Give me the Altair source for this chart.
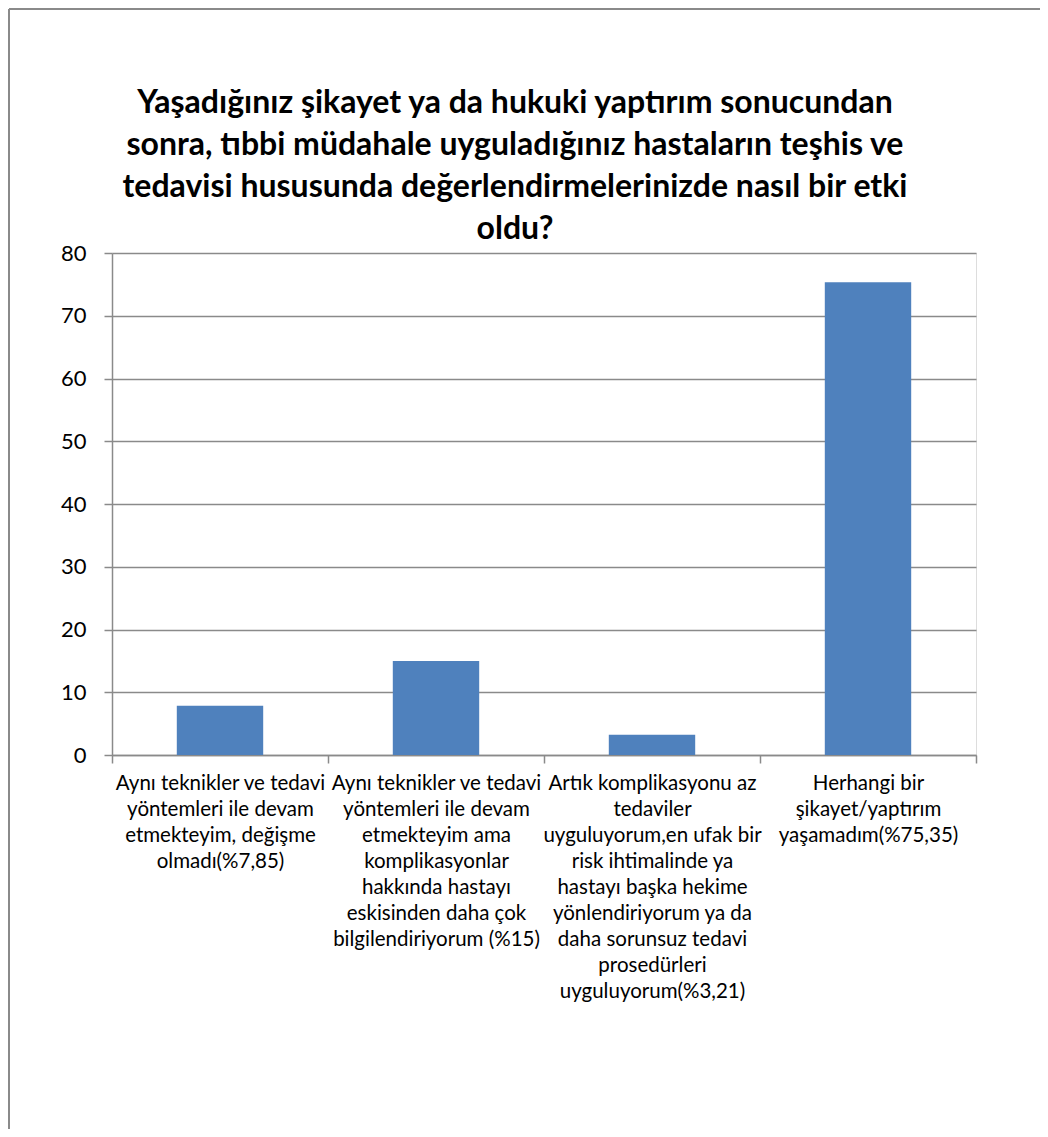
import altair as alt
import pandas as pd

# ---- data ----
categories = [
    "Aynı teknikler ve tedavi\nyöntemleri ile devam\netmekteyim, değişme\nolmadı(%7,85)",
    "Aynı teknikler ve tedavi\nyöntemleri ile devam\netmekteyim ama\nkomplikasyonlar\nhakkında hastayı\neskisinden daha çok\nbilgilendiriyorum (%15)",
    "Artık komplikasyonu az\ntedaviler\nuyguluyorum,en ufak bir\nrisk ihtimalinde ya\nhastayı başka hekime\nyönlendiriyorum ya da\ndaha sorunsuz tedavi\nprosedürleri\nuyguluyorum(%3,21)",
    "Herhangi bir\nşikayet/yaptırım\nyaşamadım(%75,35)",
]
values = [7.85, 15, 3.21, 75.35]
y_ticks = [0, 10, 20, 30, 40, 50, 60, 70, 80]
title_lines = [
    "Yaşadığınız şikayet ya da hukuki yaptırım sonucundan",
    "sonra, tıbbi müdahale uyguladığınız hastaların teşhis ve",
    "tedavisi hususunda değerlendirmelerinizde nasıl bir etki",
    "oldu?",
]

df = pd.DataFrame({"category": categories, "value": values})

FONT = "Lato"
GRAY = "#8a8a8a"

PL, PT, PW, PH = 104, 245, 864, 502
TOTAL_W, TOTAL_H = 1032, 1121

bars = alt.Chart(df).mark_bar(color="#4F81BD", width={"band": 0.4}).encode(
    x=alt.X(
        "category:N",
        sort=categories,
        scale=alt.Scale(paddingInner=0, paddingOuter=0),
        axis=alt.Axis(
            title=None,
            labelAngle=0,
            labelExpr="split(datum.label, '\\n')",
            labelFont=FONT,
            labelFontSize=20.5,
            labelLineHeight=26,
            labelColor="#000000",
            labelLimit=0,
            labelPadding=10,
            labelBaseline="top",
            tickBand="extent",
            tickSize=8,
            tickColor=GRAY,
            tickWidth=1.5,
            domainColor=GRAY,
            domainWidth=1.5,
            grid=False,
        ),
    ),
    y=alt.Y(
        "value:Q",
        scale=alt.Scale(domain=[0, 80], nice=False),
        axis=alt.Axis(
            title=None,
            values=y_ticks,
            labelFont=FONT,
            labelFontSize=22,
            labelColor="#000000",
            labelPadding=18,
            tickSize=8,
            tickColor=GRAY,
            tickWidth=1.5,
            domainColor=GRAY,
            domainWidth=1.5,
            grid=True,
            gridColor=GRAY,
            gridWidth=1.5,
        ),
    ),
)

one = pd.DataFrame({"k": [0]})

# chart title, drawn as a text mark (page centre x ~ 515, first line centre y ~ 103)
title = alt.Chart(one).mark_text(
    font=FONT,
    fontSize=32,
    fontWeight="bold",
    color="#000000",
    lineHeight=42,
    align="center",
    baseline="middle",
).encode(
    text=alt.value(title_lines),
    x=alt.value(515 - 8 - PL),
    y=alt.value(103 - 8 - PT),
)

left_border = alt.Chart(one).mark_rule(color=GRAY, strokeWidth=2).encode(
    x=alt.value(-PL + 1), y=alt.value(-PT + 1), y2=alt.value(TOTAL_H - PT)
)
top_border = alt.Chart(one).mark_rule(color=GRAY, strokeWidth=2).encode(
    x=alt.value(-PL + 1), x2=alt.value(TOTAL_W - PL), y=alt.value(-PT + 1)
)

chart = alt.layer(bars, title, left_border, top_border).properties(
    width=PW,
    height=PH,
    autosize=alt.AutoSizeParams(type="none"),
    padding={"left": PL, "top": PT, "right": TOTAL_W - PL - PW, "bottom": TOTAL_H - PT - PH},
).configure_view(stroke=None).configure(background="#ffffff")

chart.save("out.html", embed_options={"renderer": "svg", "actions": False})
